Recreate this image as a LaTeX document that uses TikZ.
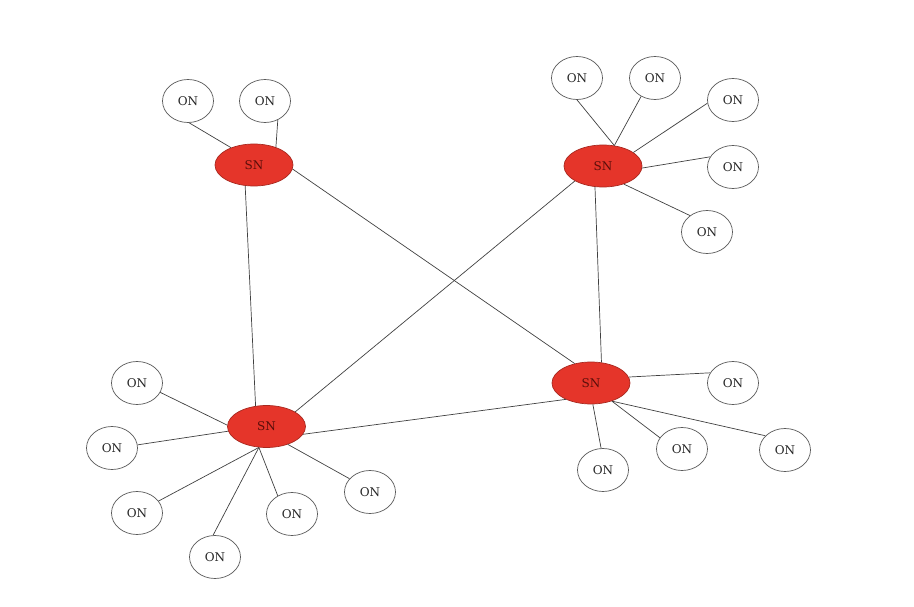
\documentclass[tikz,border=0pt]{standalone}
\usepackage{fontspec}
\setmainfont{DejaVu Serif}
\usetikzlibrary{shapes.geometric}
\definecolor{snred}{HTML}{E5352A}
\definecolor{snborder}{HTML}{A8281F}
\definecolor{sntext}{HTML}{5A0E0A}

\begin{document}
\begin{tikzpicture}[x=1pt, y=-1pt,
    sn/.style={ellipse, draw=snborder, fill=snred, line width=0.7pt, inner sep=0pt,
        minimum width=78pt, minimum height=42pt, text=sntext, font=\fontsize{12}{12}\selectfont},
    on/.style={ellipse, draw=black!65, fill=white, line width=0.7pt, inner sep=0pt,
        minimum width=51pt, minimum height=43pt, text=black!85, font=\fontsize{12}{12}\selectfont},
    link/.style={draw=black!75, line width=0.7pt}]

    \useasboundingbox (0,0) rectangle (914,607);

    % super nodes
    \node[sn] (sna) at (254,165) {SN};
    \node[sn] (snb) at (603,166) {SN};
    \node[sn] (snc) at (266.5,426.5) {SN};
    \node[sn] (snd) at (591,383) {SN};

    % ordinary nodes
    \foreach \name/\x/\y in {on1/188/101, on2/265/101,
            on3/577/78, on4/655/78, on5/733/100, on6/733/167, on7/707/232,
            on8/137/383, on9/112/448, on10/137/513, on11/215/557, on12/292/514, on13/370/492,
            on14/733/383, on15/603/470, on16/682/449, on17/785/450} {
        \node[on] (\name) at (\x,\y) {ON};
    }

    % links between super nodes
    \draw[link] (sna.-113) -- (snc.118);
    \draw[link] (sna.-6) -- (snd.130);
    \draw[link] (snb.208) -- (snc.27);
    \draw[link] (snb.249) -- (snd.63);
    \draw[link] (snc.-12) -- (snd.213);

    % links to ordinary nodes
    \foreach \on/\sn/\a/\b in {on1/sna/-87/143, on2/sna/-56/39,
            on3/snb/-90/61, on4/snb/233/61, on5/snb/187/24, on6/snb/156/-3, on7/snb/136/-41,
            on8/snc/-22/178, on9/snc/7/187, on10/snc/29/-110, on11/snc/95/-110,
            on12/snc/128/-110, on13/snc/147/-40,
            on14/snd/156/9, on15/snd/95/-85, on16/snd/153/-41, on17/snd/144/-41} {
        \draw[link] (\on.\a) -- (\sn.\b);
    }
\end{tikzpicture}
\end{document}
